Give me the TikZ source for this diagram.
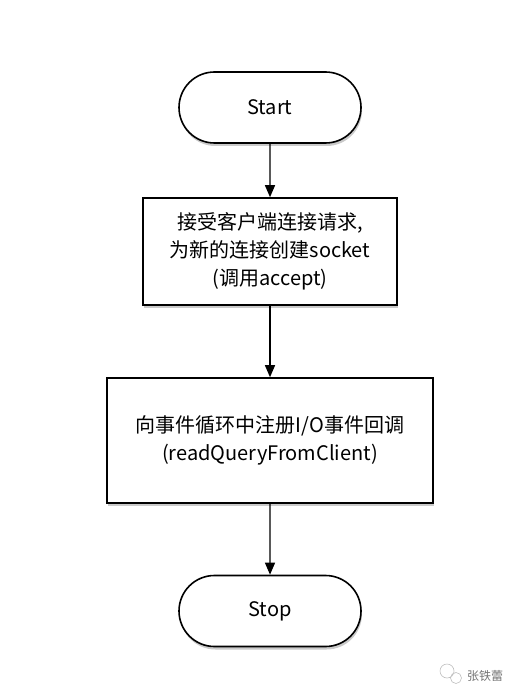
\documentclass[tikz,border=0pt]{standalone}
\usepackage{fontspec}
\setmainfont{Noto Sans CJK SC}
\usepackage{tikz}
\usetikzlibrary{arrows.meta,shapes.misc,shadows}

\begin{document}
\begin{tikzpicture}[
  x=1pt, y=-1pt,
  font=\fontsize{20}{28}\selectfont,
  shade/.style={drop shadow={shadow xshift=1pt, shadow yshift=-3pt, opacity=0.35, fill=black!60}},
  term/.style={rounded rectangle, draw=black, line width=1.6pt, fill=white, shade, minimum width=182pt, minimum height=71pt, inner sep=0pt},
  proc/.style={rectangle, draw=black, line width=1.6pt, fill=white, shade, align=center, inner sep=0pt},
  arr/.style={-{Triangle[length=12pt,width=10pt]}, line width=1.3pt, black},
]
  \useasboundingbox (0,0) rectangle (520,700);
  % flow
  \node[term] (start) at (270,107.5) {Start};
  \node[proc, minimum width=254pt, minimum height=107pt] (accept) at (270,251.5)
    {接受客户端连接请求,\\为新的连接创建socket\\(调用accept)};
  \node[proc, minimum width=326pt, minimum height=125pt] (register) at (270,440.5)
    {向事件循环中注册I/O事件回调\\(readQueryFromClient)};
  \node[term] (stop) at (270,611) {Stop};
  \draw[arr] (start) -- (accept);
  \draw[arr] (accept) -- (register);
  \draw[arr] (register) -- (stop);
  % watermark
  \draw[black!25, line width=0.6pt] (447,671) circle (7) (456,678) circle (5.5);
  \node[font=\fontsize{12}{14}\selectfont, text=black!55] (mark) at (485,676) {张铁蕾};
\end{tikzpicture}
\end{document}
